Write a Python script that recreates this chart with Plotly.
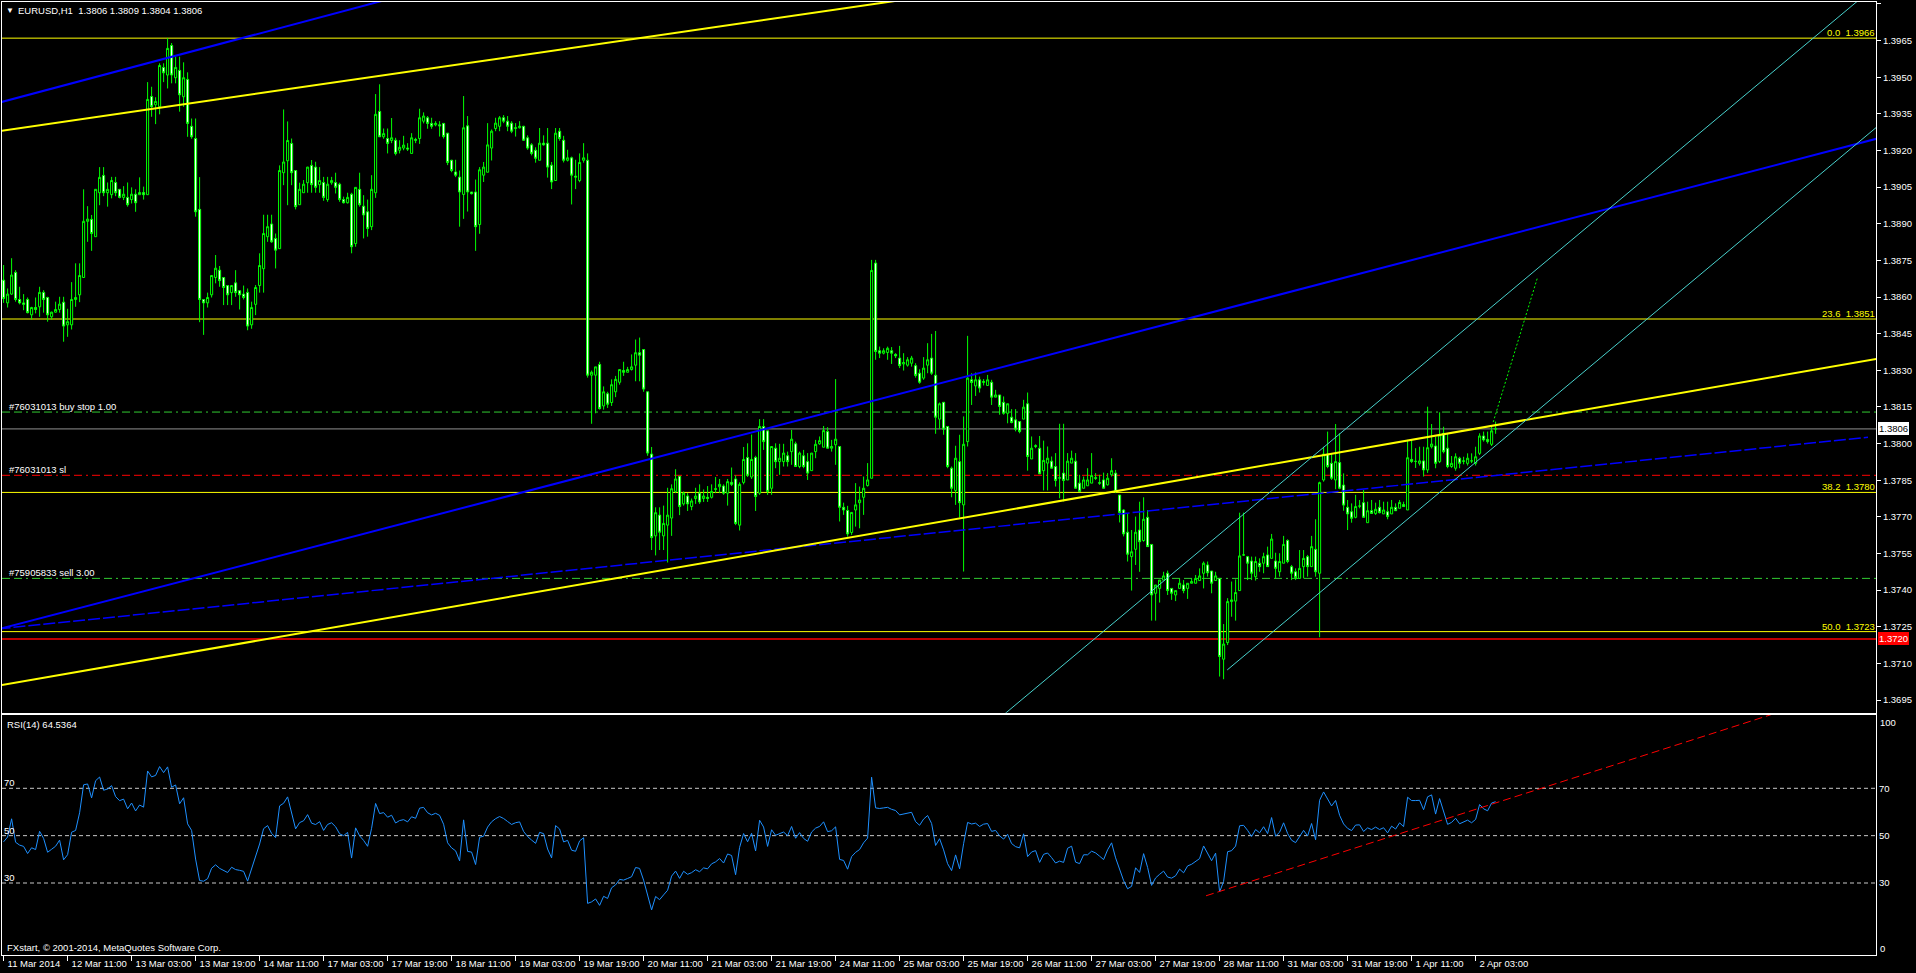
import plotly.graph_objects as go

W, H = 1916, 973
FONT = "Liberation Sans"
FS = 9.5

# ---------------- EURUSD H1 bars ----------------
opens = [
    1.38669, 1.38576, 1.38612, 1.38701, 1.38590, 1.38576, 1.38590, 1.38527, 1.38557, 1.38560,
    1.38619, 1.38598, 1.38519, 1.38538, 1.38549, 1.38579, 1.38486, 1.38486, 1.38590, 1.38609,
    1.38680, 1.38910, 1.38918, 1.38847, 1.39027, 1.39098, 1.39027, 1.39019, 1.39069, 1.39041,
    1.39008, 1.39008, 1.38999, 1.39021, 1.39019, 1.39028, 1.39019, 1.39421, 1.39387, 1.39379,
    1.39540, 1.39509, 1.39630, 1.39498, 1.39528, 1.39420, 1.39491, 1.39299, 1.39249, 1.38959,
    1.38590, 1.38576, 1.38609, 1.38680, 1.38710, 1.38680, 1.38647, 1.38618, 1.38658, 1.38626,
    1.38612, 1.38619, 1.38486, 1.38570, 1.38647, 1.38716, 1.38847, 1.38899, 1.38840, 1.38798,
    1.39109, 1.39158, 1.39229, 1.39118, 1.38978, 1.39027, 1.39068, 1.39139, 1.39132, 1.39060,
    1.39069, 1.38999, 1.39068, 1.39069, 1.39062, 1.38999, 1.38986, 1.39021, 1.38819, 1.39041,
    1.38972, 1.38949, 1.38888, 1.39027, 1.39360, 1.39256, 1.39249, 1.39241, 1.39242, 1.39201,
    1.39210, 1.39210, 1.39188, 1.39245, 1.39249, 1.39320, 1.39334, 1.39311, 1.39305, 1.39305,
    1.39311, 1.39271, 1.39160, 1.39112, 1.39091, 1.39020, 1.39301, 1.39030, 1.39030, 1.38897,
    1.39099, 1.39111, 1.39210, 1.39290, 1.39299, 1.39334, 1.39320, 1.39312, 1.39290, 1.39293,
    1.39299, 1.39252, 1.39223, 1.39201, 1.39160, 1.39230, 1.39230, 1.39140, 1.39077, 1.39279,
    1.39242, 1.39160, 1.39170, 1.39095, 1.39077, 1.39160, 1.39160, 1.38280, 1.38280, 1.38324,
    1.38154, 1.38204, 1.38168, 1.38212, 1.38251, 1.38299, 1.38292, 1.38303, 1.38321, 1.38372,
    1.38385, 1.38212, 1.37957, 1.37622, 1.37707, 1.37622, 1.37666, 1.37695, 1.37804, 1.37866,
    1.37753, 1.37785, 1.37742, 1.37775, 1.37797, 1.37775, 1.37780, 1.37780, 1.37812, 1.37823,
    1.37826, 1.37797, 1.37841, 1.37855, 1.37666, 1.37841, 1.37943, 1.37863, 1.37943, 1.37797,
    1.38070, 1.38052, 1.37817, 1.37981, 1.37926, 1.37926, 1.37950, 1.37967, 1.37999, 1.37906,
    1.37950, 1.37926, 1.37889, 1.37967, 1.37999, 1.37985, 1.38049, 1.37981, 1.37995, 1.37988,
    1.37739, 1.37726, 1.37636, 1.37728, 1.37758, 1.37780, 1.37828, 1.37858, 1.38739, 1.38380,
    1.38370, 1.38373, 1.38380, 1.38365, 1.38350, 1.38326, 1.38321, 1.38329, 1.38319, 1.38288,
    1.38268, 1.38321, 1.38350, 1.38280, 1.38100, 1.38169, 1.38070, 1.37899, 1.37808, 1.37926,
    1.37749, 1.38008, 1.38261, 1.38236, 1.38261, 1.38250, 1.38238, 1.38251, 1.38190, 1.38199,
    1.38169, 1.38124, 1.38108, 1.38097, 1.38090, 1.38100, 1.38163, 1.37937, 1.37988, 1.37981,
    1.37889, 1.37920, 1.37928, 1.37906, 1.37858, 1.37879, 1.37851, 1.37920, 1.37928, 1.37838,
    1.37817, 1.37827, 1.37838, 1.37860, 1.37840, 1.37851, 1.37831, 1.37872, 1.37879, 1.37789,
    1.37728, 1.37637, 1.37537, 1.37567, 1.37646, 1.37603, 1.37698, 1.37587, 1.37387, 1.37407,
    1.37441, 1.37469, 1.37407, 1.37380, 1.37407, 1.37421, 1.37407, 1.37428, 1.37428, 1.37439,
    1.37469, 1.37503, 1.37478, 1.37439, 1.37448, 1.37117, 1.37185, 1.37353, 1.37355, 1.37398,
    1.37544, 1.37537, 1.37519, 1.37455, 1.37510, 1.37510, 1.37544, 1.37530, 1.37519, 1.37475,
    1.37510, 1.37603, 1.37496, 1.37475, 1.37448, 1.37496, 1.37537, 1.37496, 1.37567, 1.37469,
    1.37851, 1.37957, 1.37919, 1.37851, 1.37922, 1.37830, 1.37739, 1.37721, 1.37698, 1.37744,
    1.37758, 1.37676, 1.37725, 1.37714, 1.37739, 1.37712, 1.37721, 1.37712, 1.37739, 1.37735,
    1.37750, 1.37728, 1.37935, 1.37927, 1.37919, 1.37929, 1.37892, 1.37987, 1.37990, 1.37926,
    1.38042, 1.37981, 1.37906, 1.37899, 1.37940, 1.37927, 1.37919, 1.37929, 1.37919, 1.37960,
    1.38031, 1.38017, 1.37997, 1.38060,
]
highs = [
    1.38731, 1.38635, 1.38759, 1.38710, 1.38642, 1.38612, 1.38598, 1.38560, 1.38598, 1.38642,
    1.38628, 1.38601, 1.38540, 1.38581, 1.38601, 1.38601, 1.38552, 1.38661, 1.38738, 1.38738,
    1.39041, 1.38972, 1.38936, 1.39041, 1.39132, 1.39132, 1.39069, 1.39092, 1.39092, 1.39041,
    1.39054, 1.39069, 1.39049, 1.39041, 1.39090, 1.39052, 1.39480, 1.39461, 1.39418, 1.39557,
    1.39557, 1.39660, 1.39640, 1.39584, 1.39584, 1.39561, 1.39520, 1.39331, 1.39331, 1.39091,
    1.38590, 1.38618, 1.38688, 1.38772, 1.38727, 1.38680, 1.38647, 1.38647, 1.38710, 1.38626,
    1.38647, 1.38635, 1.38581, 1.38649, 1.38779, 1.38937, 1.38937, 1.38937, 1.38860, 1.39139,
    1.39368, 1.39319, 1.39249, 1.39118, 1.39068, 1.39079, 1.39133, 1.39161, 1.39154, 1.39132,
    1.39092, 1.39092, 1.39092, 1.39109, 1.39068, 1.39011, 1.39027, 1.39027, 1.39049, 1.39109,
    1.39017, 1.38999, 1.39099, 1.39431, 1.39471, 1.39290, 1.39290, 1.39333, 1.39252, 1.39242,
    1.39260, 1.39230, 1.39271, 1.39252, 1.39371, 1.39356, 1.39341, 1.39334, 1.39320, 1.39320,
    1.39311, 1.39271, 1.39162, 1.39162, 1.39118, 1.39423, 1.39341, 1.39030, 1.39081, 1.39132,
    1.39153, 1.39312, 1.39286, 1.39334, 1.39341, 1.39345, 1.39341, 1.39320, 1.39312, 1.39320,
    1.39301, 1.39262, 1.39230, 1.39213, 1.39292, 1.39262, 1.39292, 1.39153, 1.39292, 1.39292,
    1.39260, 1.39203, 1.39175, 1.39162, 1.39188, 1.39230, 1.39188, 1.38299, 1.38314, 1.38335,
    1.38234, 1.38212, 1.38263, 1.38277, 1.38303, 1.38335, 1.38314, 1.38365, 1.38426, 1.38434,
    1.38385, 1.38212, 1.37986, 1.37739, 1.37739, 1.37746, 1.37819, 1.37833, 1.37895, 1.37866,
    1.37804, 1.37797, 1.37775, 1.37819, 1.37833, 1.37812, 1.37826, 1.37833, 1.37863, 1.37855,
    1.37833, 1.37855, 1.37902, 1.37870, 1.37841, 1.37986, 1.38001, 1.38037, 1.37950, 1.38100,
    1.38100, 1.38052, 1.37988, 1.38001, 1.37999, 1.37999, 1.37967, 1.38056, 1.38008, 1.37967,
    1.37974, 1.37961, 1.37961, 1.38015, 1.38029, 1.38072, 1.38067, 1.38015, 1.38264, 1.37988,
    1.37758, 1.37745, 1.37718, 1.37838, 1.37824, 1.37865, 1.37920, 1.38752, 1.38752, 1.38397,
    1.38390, 1.38397, 1.38395, 1.38370, 1.38400, 1.38370, 1.38354, 1.38359, 1.38329, 1.38304,
    1.38354, 1.38411, 1.38449, 1.38461, 1.38168, 1.38169, 1.38072, 1.37906, 1.37991, 1.38036,
    1.38111, 1.38441, 1.38288, 1.38291, 1.38274, 1.38264, 1.38281, 1.38261, 1.38220, 1.38199,
    1.38193, 1.38163, 1.38141, 1.38141, 1.38090, 1.38179, 1.38209, 1.38029, 1.37997, 1.38031,
    1.38012, 1.37988, 1.37947, 1.37961, 1.38081, 1.38081, 1.37961, 1.37971, 1.37961, 1.37872,
    1.37865, 1.37899, 1.37961, 1.37879, 1.37872, 1.37881, 1.37879, 1.37940, 1.37892, 1.37789,
    1.37731, 1.37715, 1.37646, 1.37701, 1.37762, 1.37780, 1.37728, 1.37587, 1.37421, 1.37441,
    1.37475, 1.37480, 1.37407, 1.37398, 1.37448, 1.37441, 1.37428, 1.37448, 1.37462, 1.37489,
    1.37517, 1.37517, 1.37478, 1.37475, 1.37448, 1.37261, 1.37367, 1.37435, 1.37444, 1.37717,
    1.37717, 1.37540, 1.37537, 1.37537, 1.37530, 1.37553, 1.37578, 1.37630, 1.37553, 1.37551,
    1.37622, 1.37608, 1.37503, 1.37489, 1.37564, 1.37564, 1.37544, 1.37622, 1.37690, 1.37844,
    1.37987, 1.38049, 1.37960, 1.38080, 1.38042, 1.37878, 1.37769, 1.37755, 1.37790, 1.37769,
    1.37810, 1.37762, 1.37769, 1.37758, 1.37769, 1.37762, 1.37762, 1.37769, 1.37755, 1.37769,
    1.37762, 1.38015, 1.38015, 1.37981, 1.37987, 1.37987, 1.38151, 1.38080, 1.38028, 1.38128,
    1.38069, 1.38042, 1.37949, 1.37960, 1.37946, 1.37946, 1.37960, 1.37960, 1.37987, 1.38042,
    1.38049, 1.38049, 1.38076, 1.38090,
]
lows = [
    1.38576, 1.38557, 1.38609, 1.38581, 1.38570, 1.38546, 1.38533, 1.38508, 1.38533, 1.38519,
    1.38536, 1.38499, 1.38508, 1.38536, 1.38536, 1.38417, 1.38437, 1.38467, 1.38560, 1.38579,
    1.38680, 1.38826, 1.38789, 1.38847, 1.38976, 1.39013, 1.38970, 1.39004, 1.39013, 1.39004,
    1.38997, 1.38970, 1.38983, 1.38949, 1.39019, 1.38999, 1.39019, 1.39338, 1.39308, 1.39348,
    1.39480, 1.39454, 1.39475, 1.39475, 1.39359, 1.39379, 1.39256, 1.39248, 1.38929, 1.38497,
    1.38445, 1.38557, 1.38598, 1.38656, 1.38642, 1.38567, 1.38567, 1.38567, 1.38601, 1.38549,
    1.38590, 1.38464, 1.38470, 1.38526, 1.38618, 1.38618, 1.38826, 1.38822, 1.38717, 1.38798,
    1.39058, 1.38976, 1.39058, 1.38959, 1.38978, 1.39027, 1.39027, 1.39027, 1.39027, 1.39027,
    1.38994, 1.38990, 1.39060, 1.39024, 1.38990, 1.38983, 1.38983, 1.38779, 1.38806, 1.38970,
    1.38840, 1.38847, 1.38874, 1.39006, 1.39256, 1.39248, 1.39188, 1.39230, 1.39180, 1.39188,
    1.39201, 1.39198, 1.39188, 1.39230, 1.39227, 1.39311, 1.39289, 1.39289, 1.39299, 1.39257,
    1.39249, 1.39140, 1.39111, 1.39091, 1.38888, 1.38920, 1.38950, 1.39020, 1.38789, 1.38859,
    1.39071, 1.39111, 1.39159, 1.39279, 1.39279, 1.39312, 1.39279, 1.39271, 1.39257, 1.39290,
    1.39240, 1.39203, 1.39180, 1.39150, 1.39160, 1.39220, 1.39089, 1.39042, 1.39077, 1.39240,
    1.39151, 1.39155, 1.38979, 1.39042, 1.39070, 1.39150, 1.38270, 1.38081, 1.38124, 1.38139,
    1.38139, 1.38146, 1.38154, 1.38190, 1.38241, 1.38277, 1.38292, 1.38299, 1.38255, 1.38255,
    1.38212, 1.37950, 1.37564, 1.37542, 1.37564, 1.37564, 1.37513, 1.37622, 1.37797, 1.37707,
    1.37746, 1.37724, 1.37727, 1.37753, 1.37753, 1.37761, 1.37761, 1.37775, 1.37797, 1.37797,
    1.37790, 1.37746, 1.37826, 1.37666, 1.37644, 1.37833, 1.37863, 1.37855, 1.37724, 1.37790,
    1.37974, 1.37790, 1.37790, 1.37899, 1.37872, 1.37906, 1.37906, 1.37913, 1.37906, 1.37899,
    1.37899, 1.37851, 1.37889, 1.37940, 1.37995, 1.37985, 1.37981, 1.37967, 1.37913, 1.37681,
    1.37708, 1.37619, 1.37626, 1.37660, 1.37653, 1.37708, 1.37824, 1.37858, 1.38343, 1.38350,
    1.38365, 1.38343, 1.38326, 1.38350, 1.38309, 1.38299, 1.38315, 1.38315, 1.38270, 1.38245,
    1.38261, 1.38288, 1.38281, 1.38040, 1.38059, 1.38036, 1.37899, 1.37780, 1.37749, 1.37697,
    1.37476, 1.37988, 1.38158, 1.38195, 1.38209, 1.38238, 1.38236, 1.38158, 1.38190, 1.38118,
    1.38118, 1.38083, 1.38083, 1.38050, 1.38042, 1.38100, 1.37889, 1.37937, 1.37981, 1.37876,
    1.37808, 1.37808, 1.37899, 1.37824, 1.37776, 1.37763, 1.37851, 1.37920, 1.37817, 1.37804,
    1.37817, 1.37827, 1.37838, 1.37851, 1.37831, 1.37817, 1.37828, 1.37865, 1.37797, 1.37677,
    1.37620, 1.37517, 1.37398, 1.37503, 1.37475, 1.37598, 1.37578, 1.37275, 1.37275, 1.37349,
    1.37441, 1.37380, 1.37360, 1.37355, 1.37407, 1.37387, 1.37364, 1.37428, 1.37428, 1.37439,
    1.37407, 1.37455, 1.37387, 1.37439, 1.37046, 1.37035, 1.37175, 1.37291, 1.37275, 1.37398,
    1.37540, 1.37441, 1.37441, 1.37439, 1.37475, 1.37469, 1.37496, 1.37530, 1.37448, 1.37455,
    1.37510, 1.37510, 1.37441, 1.37441, 1.37448, 1.37448, 1.37455, 1.37496, 1.37455, 1.37207,
    1.37844, 1.37899, 1.37851, 1.37813, 1.37813, 1.37725, 1.37646, 1.37676, 1.37694, 1.37735,
    1.37698, 1.37676, 1.37714, 1.37708, 1.37714, 1.37712, 1.37690, 1.37712, 1.37725, 1.37735,
    1.37742, 1.37728, 1.37920, 1.37900, 1.37910, 1.37865, 1.37880, 1.37980, 1.37899, 1.37920,
    1.37960, 1.37899, 1.37900, 1.37889, 1.37899, 1.37915, 1.37910, 1.37920, 1.37910, 1.37953,
    1.38008, 1.38000, 1.37990, 1.38040,
]
closes = [
    1.38594, 1.38612, 1.38690, 1.38590, 1.38576, 1.38570, 1.38536, 1.38557, 1.38549, 1.38619,
    1.38590, 1.38527, 1.38538, 1.38549, 1.38571, 1.38481, 1.38499, 1.38590, 1.38598, 1.38688,
    1.38910, 1.38919, 1.38860, 1.39041, 1.39090, 1.39027, 1.39041, 1.39077, 1.39027, 1.39008,
    1.39021, 1.38978, 1.39021, 1.38986, 1.39028, 1.39019, 1.39409, 1.39379, 1.39401, 1.39548,
    1.39518, 1.39618, 1.39509, 1.39540, 1.39428, 1.39498, 1.39311, 1.39256, 1.38949, 1.38590,
    1.38576, 1.38598, 1.38688, 1.38718, 1.38667, 1.38639, 1.38609, 1.38647, 1.38618, 1.38609,
    1.38598, 1.38481, 1.38557, 1.38639, 1.38729, 1.38860, 1.38888, 1.38826, 1.38792, 1.39118,
    1.39153, 1.39241, 1.39109, 1.38970, 1.39041, 1.39062, 1.39132, 1.39060, 1.39049, 1.39077,
    1.39008, 1.39062, 1.39077, 1.39049, 1.38999, 1.38986, 1.39008, 1.38806, 1.39049, 1.38978,
    1.38936, 1.38881, 1.39041, 1.39348, 1.39256, 1.39269, 1.39229, 1.39252, 1.39188, 1.39213,
    1.39222, 1.39206, 1.39252, 1.39242, 1.39334, 1.39341, 1.39311, 1.39299, 1.39311, 1.39301,
    1.39257, 1.39151, 1.39118, 1.39099, 1.39030, 1.39293, 1.39030, 1.39023, 1.38888, 1.39121,
    1.39132, 1.39223, 1.39279, 1.39312, 1.39334, 1.39320, 1.39299, 1.39279, 1.39293, 1.39299,
    1.39242, 1.39210, 1.39188, 1.39168, 1.39230, 1.39223, 1.39132, 1.39071, 1.39271, 1.39249,
    1.39160, 1.39170, 1.39099, 1.39091, 1.39151, 1.39170, 1.38280, 1.38292, 1.38314, 1.38143,
    1.38212, 1.38161, 1.38241, 1.38263, 1.38303, 1.38292, 1.38303, 1.38314, 1.38372, 1.38362,
    1.38223, 1.37961, 1.37615, 1.37717, 1.37637, 1.37673, 1.37707, 1.37815, 1.37855, 1.37742,
    1.37797, 1.37753, 1.37765, 1.37785, 1.37761, 1.37785, 1.37775, 1.37804, 1.37815, 1.37833,
    1.37797, 1.37844, 1.37833, 1.37673, 1.37833, 1.37935, 1.37870, 1.37935, 1.37783, 1.38070,
    1.38008, 1.37804, 1.37988, 1.37926, 1.37940, 1.37961, 1.37926, 1.38018, 1.37906, 1.37961,
    1.37906, 1.37879, 1.37961, 1.37997, 1.38012, 1.38053, 1.37981, 1.37988, 1.38018, 1.37739,
    1.37728, 1.37630, 1.37718, 1.37749, 1.37769, 1.37817, 1.37851, 1.38709, 1.38377, 1.38370,
    1.38380, 1.38390, 1.38370, 1.38359, 1.38319, 1.38332, 1.38343, 1.38350, 1.38279, 1.38251,
    1.38309, 1.38343, 1.38288, 1.38108, 1.38163, 1.38059, 1.37906, 1.37817, 1.37940, 1.37758,
    1.37997, 1.38268, 1.38250, 1.38261, 1.38227, 1.38254, 1.38261, 1.38190, 1.38199, 1.38152,
    1.38124, 1.38163, 1.38086, 1.38059, 1.38049, 1.38149, 1.37947, 1.37981, 1.37991, 1.37876,
    1.37931, 1.37940, 1.37899, 1.37849, 1.37860, 1.37849, 1.37928, 1.37940, 1.37817, 1.37804,
    1.37851, 1.37851, 1.37869, 1.37858, 1.37838, 1.37817, 1.37858, 1.37889, 1.37804, 1.37718,
    1.37630, 1.37547, 1.37557, 1.37637, 1.37598, 1.37690, 1.37578, 1.37380, 1.37421, 1.37441,
    1.37458, 1.37398, 1.37387, 1.37398, 1.37428, 1.37398, 1.37428, 1.37435, 1.37448, 1.37458,
    1.37510, 1.37471, 1.37428, 1.37458, 1.37128, 1.37179, 1.37353, 1.37360, 1.37390, 1.37540,
    1.37544, 1.37510, 1.37469, 1.37517, 1.37496, 1.37537, 1.37496, 1.37609, 1.37489, 1.37517,
    1.37587, 1.37517, 1.37469, 1.37452, 1.37489, 1.37530, 1.37496, 1.37578, 1.37475, 1.37840,
    1.37957, 1.37906, 1.37858, 1.37926, 1.37817, 1.37748, 1.37712, 1.37694, 1.37742, 1.37744,
    1.37698, 1.37725, 1.37714, 1.37731, 1.37717, 1.37728, 1.37701, 1.37739, 1.37725, 1.37759,
    1.37742, 1.37942, 1.37927, 1.37927, 1.37929, 1.37892, 1.37983, 1.37998, 1.37919, 1.38035,
    1.37967, 1.37906, 1.37919, 1.37946, 1.37919, 1.37929, 1.37940, 1.37929, 1.37946, 1.38031,
    1.38015, 1.38008, 1.38052, 1.38060,
]
bars = list(range(len(closes)))

# ---------------- axis ticks ----------------
time_tick_bars = [0, 16, 32, 48, 64, 80, 96, 112, 128, 144, 160, 176,
                  192, 208, 224, 240, 256, 272, 288, 304, 320, 336, 352, 368]
time_tick_labels = ["11 Mar 2014", "12 Mar 11:00", "13 Mar 03:00", "13 Mar 19:00",
                    "14 Mar 11:00", "17 Mar 03:00", "17 Mar 19:00", "18 Mar 11:00",
                    "19 Mar 03:00", "19 Mar 19:00", "20 Mar 11:00", "21 Mar 03:00",
                    "21 Mar 19:00", "24 Mar 11:00", "25 Mar 03:00", "25 Mar 19:00",
                    "26 Mar 11:00", "27 Mar 03:00", "27 Mar 19:00", "28 Mar 11:00",
                    "31 Mar 03:00", "31 Mar 19:00", "1 Apr 11:00", "2 Apr 03:00"]
price_ticks = [1.3980, 1.3965, 1.3950, 1.3935, 1.3920, 1.3905, 1.3890, 1.3875, 1.3860,
               1.3845, 1.3830, 1.3815, 1.3800, 1.3785, 1.3770, 1.3755, 1.3740, 1.3725,
               1.3710, 1.3695]
rsi_ticks = [70, 50, 30]

# ---------------- horizontal objects ----------------
fib_levels = [1.3966, 1.3851, 1.3780, 1.3723]
fib_names = ["0.0", "23.6", "38.2", "50.0"]
order_prices = [1.38129, 1.37870, 1.37448]
order_texts = ["#76031013 buy stop 1.00", "#76031013 sl", "#75905833 sell 3.00"]
order_colors = ["#32CD32", "#FF0000", "#32CD32"]
bid_price = 1.3806
alert_price = 1.3720
header_ohlc = ["1.3806", "1.3809", "1.3804", "1.3806"]

# ---------------- trend lines (bar index, price) ----------------
blue_upper_x = [-5, 120]
blue_upper_y = [1.39379, 1.39923]
blue_mid_x = [-5, 475]
blue_mid_y = [1.37224, 1.39277]
blue_low_x = [-5, 466.1]
blue_low_y = [1.37235, 1.38026]
yellow_upper_x = [-5, 240]
yellow_upper_y = [1.39270, 1.39853]
yellow_lower_x = [-5, 475]
yellow_lower_y = [1.36998, 1.38366]
cyan_upper_x = [248, 470]
cyan_upper_y = [1.36862, 1.39901]
cyan_lower_x = [305.9, 475]
cyan_lower_y = [1.37073, 1.39388]
proj_x = [372.4, 383.4]
proj_y = [1.38088, 1.38676]
rsi_trend_x = [300.6, 445]
rsi_trend_y = [24.6, 102.8]

# ---------------- RSI(14) of the closes ----------------
rsi_period = 14
rsi_first = 47.4          # value shown at the first visible bar
moves = [abs(closes[i] - closes[i - 1]) for i in range(1, rsi_period + 1)]
avg_move = sum(moves) / len(moves)
g = avg_move * rsi_first / 100.0
l = avg_move * (1 - rsi_first / 100.0)
rsi = [rsi_first]
for i in range(1, len(closes)):
    d = closes[i] - closes[i - 1]
    g = (g * (rsi_period - 1) + max(d, 0.0)) / rsi_period
    l = (l * (rsi_period - 1) + max(-d, 0.0)) / rsi_period
    rsi.append(100.0 * g / (g + l))

# ---------------- geometry ----------------
XD = [2 / W, 1876 / W]
MAIN_D = [1 - 712.7 / H, 1 - 2 / H]
RSI_D = [1 - 955 / H, 1 - 715 / H]
XR = [-0.4, 468.1]
YR = [1.36898, 1.39808]
RR = [-0.41, 100.96]

fig = go.Figure()

fig.add_trace(go.Candlestick(
    x=bars, open=opens, high=highs, low=lows, close=closes,
    increasing=dict(line=dict(color="#00FF00", width=1), fillcolor="#000000"),
    decreasing=dict(line=dict(color="#00FF00", width=1), fillcolor="#FFFFFF"),
    whiskerwidth=0, hoverinfo="skip", xaxis="x", yaxis="y", showlegend=False))


def tline(xs, ys, color, width=1.0, dash="solid", xa="x", ya="y"):
    fig.add_trace(go.Scatter(x=xs, y=ys, mode="lines", xaxis=xa, yaxis=ya,
                             line=dict(color=color, width=width, dash=dash),
                             hoverinfo="skip", showlegend=False))


tline(blue_upper_x, blue_upper_y, "#0000FF", 2)
tline(blue_mid_x, blue_mid_y, "#0000FF", 2)
tline(blue_low_x, blue_low_y, "#0000FF", 1.5, "12px,3px")
tline(yellow_upper_x, yellow_upper_y, "#FFFF00", 2)
tline(yellow_lower_x, yellow_lower_y, "#FFFF00", 2)
tline(cyan_upper_x, cyan_upper_y, "#48D1CC", 1)
tline(cyan_lower_x, cyan_lower_y, "#48D1CC", 1)
tline(proj_x, proj_y, "#00FF00", 1, "2px,2px")

fig.add_trace(go.Scatter(x=bars, y=rsi, mode="lines", xaxis="x2", yaxis="y2",
                         line=dict(color="#1E90FF", width=1),
                         hoverinfo="skip", showlegend=False))
tline(rsi_trend_x, rsi_trend_y, "#FF0000", 1, "8px,4px", "x2", "y2")

# horizontal lines
for lvl in fib_levels:
    fig.add_shape(type="line", xref="x domain", x0=0, x1=1, yref="y", y0=lvl, y1=lvl,
                  line=dict(color="#FFFF00", width=1), layer="below")
for p, c in zip(order_prices, order_colors):
    fig.add_shape(type="line", xref="x domain", x0=0, x1=1, yref="y", y0=p, y1=p,
                  line=dict(color=c, width=1, dash="8px,4px,8px,4px,2px,4px"), layer="below")
fig.add_shape(type="line", xref="x domain", x0=0, x1=1, yref="y", y0=bid_price, y1=bid_price,
              line=dict(color="#909090", width=1), layer="below")
fig.add_shape(type="line", xref="x domain", x0=0, x1=1, yref="y", y0=alert_price, y1=alert_price,
              line=dict(color="#FF0000", width=1.5), layer="below")
for lv in rsi_ticks:
    fig.add_shape(type="line", xref="x2 domain", x0=0, x1=1, yref="y2", y0=lv, y1=lv,
                  line=dict(color="#C8C8C8", width=1, dash="4px,3px"), layer="below")

ann = []


def note(text, x, y, xanchor="left", yanchor="middle", color="white", yref="paper",
         bg=None, size=FS):
    d = dict(text=text, x=x, y=y, xref="paper", yref=yref, xanchor=xanchor, yanchor=yanchor,
             showarrow=False, font=dict(family=FONT, size=size, color=color),
             borderpad=0, borderwidth=0)
    if bg:
        d["bgcolor"] = bg
        d["borderpad"] = 1
    ann.append(d)


NB = "\u00a0"
note("\u25BC", 6 / W, 1 - 10.5 / H, size=8)
note("EURUSD,H1" + NB * 2 + " ".join(header_ohlc), 18 / W, 1 - 10.5 / H)
for name, lvl in zip(fib_names, fib_levels):
    note(name + NB * 2 + f"{lvl:.4f}", 1875 / W, lvl, xanchor="right", yanchor="bottom",
         color="#FFFF00", yref="y")
for t, p in zip(order_texts, order_prices):
    note(t, 9 / W, p, yanchor="bottom", yref="y")
note(f"{bid_price:.4f}", 1878 / W, bid_price, color="#000000", yref="y", bg="#FFFFFF")
note(f"{alert_price:.4f}", 1878 / W, alert_price, color="#FFFFFF", yref="y", bg="#FF0000")
note("RSI(14) 64.5364", 7 / W, 1 - 724.3 / H)
note("FXstart, \u00a9 2001-2014, MetaQuotes Software Corp.", 7 / W, 1 - 947.7 / H)
for lv in rsi_ticks:
    note(str(lv), 4 / W, lv, yanchor="bottom", yref="y2")
note("100", 1880 / W, 1 - 722.3 / H)
note("0", 1880 / W, 1 - 948.3 / H)

axis_common = dict(showgrid=False, zeroline=False, showline=True, linecolor="white",
                   linewidth=1, mirror=True, fixedrange=True)
tickfont = dict(family=FONT, size=FS, color="white")

fig.update_layout(
    width=W, height=H, autosize=False,
    margin=dict(l=0, r=0, t=0, b=0, pad=0),
    paper_bgcolor="#000000", plot_bgcolor="#000000",
    showlegend=False, hovermode=False, dragmode=False, boxgap=0.25,
    annotations=ann,
    xaxis=dict(domain=XD, range=XR, anchor="y", showticklabels=False, ticks="",
               rangeslider=dict(visible=False), **axis_common),
    yaxis=dict(domain=MAIN_D, range=YR, anchor="x", side="right",
               tickvals=price_ticks, ticktext=[f"{v:.4f}" for v in price_ticks],
               ticks="outside", ticklen=4, tickcolor="white", tickfont=tickfont,
               **axis_common),
    xaxis2=dict(domain=XD, range=XR, anchor="y2", matches="x",
                tickvals=time_tick_bars, ticktext=time_tick_labels, tickangle=0,
                ticks="outside", ticklen=5, tickcolor="white", tickfont=tickfont,
                ticklabelposition="outside right", ticklabelshift=3,
                rangeslider=dict(visible=False), **axis_common),
    yaxis2=dict(domain=RSI_D, range=RR, anchor="x2", side="right",
                tickvals=rsi_ticks, ticktext=[str(v) for v in rsi_ticks],
                ticks="", tickfont=tickfont, **axis_common),
)

fig.write_html("out.html", config={"displayModeBar": False, "staticPlot": True},
               post_script="document.body.style.margin='0';document.body.style.padding='0';"
                           "document.body.style.background='#000';")
